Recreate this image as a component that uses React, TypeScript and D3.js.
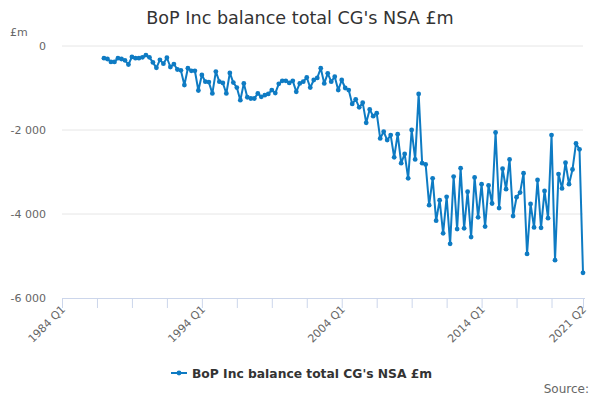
import * as d3 from "d3";

const title = "BoP Inc balance total CG's NSA £m";
const seriesName = "BoP Inc balance total CG's NSA £m";
const unitLabel = "£m";
const sourceLabel = "Source:";

// quarters 1984 Q1 .. 2021 Q2
const firstYear = 1984;
const lastYear = 2021;
const quarters: string[] = [];
for (let y = firstYear; y <= lastYear; y++) {
    for (let q = 1; q <= 4; q++) {
        if (y === lastYear && q > 2) break;
        quarters.push(`${y} Q${q}`);
    }
}

// series starts 1987 Q1
const seriesStart = "1987 Q1";
const values: number[] = [
    -290, -310, -380, -380, -290, -310, -340, -440, -260, -290,
    -290, -270, -215, -270, -390, -520, -330, -420, -280, -500,
    -430, -560, -580, -930, -530, -590, -590, -1060, -690, -850,
    -860, -1130, -610, -850, -880, -1130, -640, -870, -990, -1290,
    -890, -1220, -1250, -1250, -1130, -1210, -1170, -1140, -1050, -1120,
    -900, -830, -830, -880, -830, -1090, -890, -850, -750, -990,
    -810, -760, -530, -890, -650, -850, -730, -1050, -810, -1000,
    -1050, -1380, -1270, -1460, -1350, -1830, -1510, -1670, -1600, -2200,
    -2040, -2240, -2120, -2650, -2100, -2790, -2570, -3150, -2000, -2700,
    -1140, -2790, -2820, -3790, -3150, -4160, -3670, -4460, -3590, -4710,
    -3110, -4360, -2910, -4340, -3470, -4550, -3130, -4080, -3290, -4300,
    -3320, -3750, -2060, -3860, -2920, -3410, -2700, -4050, -3600, -3490,
    -3030, -4950, -3760, -4320, -3190, -4330, -3450, -4100, -2120, -5100,
    -3050, -3390, -2780, -3290, -2940, -2320, -2460, -5400,
];

const yTicks = [0, -2000, -4000, -6000];
const xLabelQuarters = ["1984 Q1", "1994 Q1", "2004 Q1", "2014 Q1", "2021 Q2"];

const width = 600;
const height = 400;
const m = { t: 46, r: 17, b: 102, l: 62 };
const font = "'DejaVu Sans', Verdana, sans-serif";
const lineColor = "#0e7bc3";

export default function App() {
    const startIdx = quarters.indexOf(seriesStart);
    const points = values.map((v, i) => ({ i: startIdx + i, v }));

    const x = d3.scaleLinear()
        .domain([0, quarters.length - 1])
        .range([m.l, width - m.r]);
    const y = d3.scaleLinear()
        .domain([-6000, 0])
        .range([height - m.b, m.t]);

    const line = d3.line<{ i: number, v: number }>()
        .x(d => x(d.i))
        .y(d => y(d.v));

    const fmt = (v: number) => d3.format(",")(v).replace(/,/g, " ").replace("−", "-");

    // minor ticks every 10 quarters plus the last one
    const tickIdx = d3.range(0, quarters.length, 10);
    tickIdx.push(quarters.length - 1);

    const y0 = y(-6000);

    return (
        <svg width={width} height={height} style={{ position: "absolute", left: 0, top: 0 }}
             fontFamily={font}>
            <rect width={width} height={height} fill="#fff" />
            <text x={width / 2} y={24} textAnchor="middle" fontSize={17.6} fill="#333">{title}</text>
            <text x={10} y={36} fontSize={11} fill="#666">{unitLabel}</text>

            {yTicks.map(t => (
                <g key={t}>
                    {t !== -6000 && (
                        <line x1={m.l} x2={width - m.r} y1={y(t)} y2={y(t)} stroke="#e6e6e6" />
                    )}
                    <text x={46} y={y(t) + 4} textAnchor="end" fontSize={11} fill="#666">{fmt(t)}</text>
                </g>
            ))}

            <line x1={m.l} x2={width - m.r + 2} y1={y0 + 0.5} y2={y0 + 0.5} stroke="#ccd6eb" />
            {tickIdx.map(i => (
                <line key={i} x1={x(i) + 0.5} x2={x(i) + 0.5} y1={y0} y2={y0 + 10} stroke="#ccd6eb" />
            ))}
            {xLabelQuarters.map(q => {
                const px = x(quarters.indexOf(q)) + 4;
                const py = y0 + 12;
                return (
                    <text key={q} x={px} y={py} textAnchor="end" fontSize={11} fill="#666"
                          transform={`rotate(-45 ${px} ${py})`}>{q}</text>
                );
            })}

            <path d={line(points) || ""} fill="none" stroke={lineColor} strokeWidth={2}
                  strokeLinejoin="round" />
            {points.map(p => (
                <circle key={p.i} cx={x(p.i)} cy={y(p.v)} r={2.4} fill={lineColor} />
            ))}

            <g transform="translate(171, 373)">
                <line x1={0} x2={16} y1={0} y2={0} stroke={lineColor} strokeWidth={2} />
                <circle cx={8} cy={0} r={2.4} fill={lineColor} />
                <text x={21} y={4.5} fontSize={12.3} fontWeight="bold" fill="#333">{seriesName}</text>
            </g>

            <text x={589} y={393} textAnchor="end" fontSize={12} fill="#666">{sourceLabel}</text>
        </svg>
    );
}
